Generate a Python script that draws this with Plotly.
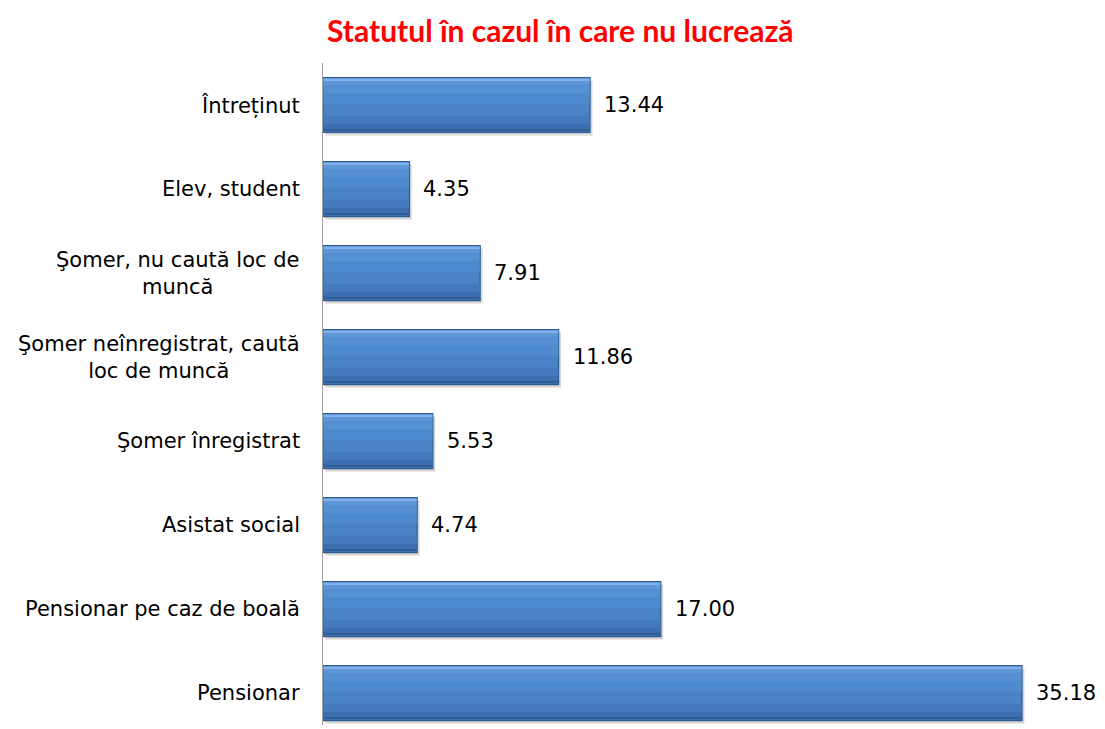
import plotly.graph_objects as go

categories = [
    "Pensionar",
    "Pensionar pe caz de boală",
    "Asistat social",
    "Şomer înregistrat",
    "Şomer neînregistrat, caută<br>loc de muncă",
    "Şomer, nu caută loc de<br>muncă",
    "Elev, student",
    "Întreținut",
]
values = [35.18, 17.00, 4.74, 5.53, 11.86, 7.91, 4.35, 13.44]
title_text = "Statutul în cazul în care nu lucrează"

# page has an 8px body margin; figure coordinates = page coordinates - 8
W, H = 1097, 721
ml, mr, mt, mb = 315, 5, 55, 4
pw = W - ml - mr
ph = H - mt - mb
xmax = pw / 19.87
ypos = list(range(len(categories)))
BW = 0.655
PX = 1 / 84.0  # one pixel in category units
LABEL_FONT = dict(family="DejaVu Sans, Liberation Sans, Arial", size=21, color="#000000")

fig = go.Figure()
# shadow
fig.add_trace(go.Bar(
    x=values, y=ypos, orientation="h", base=0.12, width=BW, offset=-BW / 2 - 3 * PX,
    marker=dict(color="rgba(0,0,0,0.16)", line=dict(width=0)), hoverinfo="skip",
))
# main bar
fig.add_trace(go.Bar(
    x=values, y=ypos, orientation="h", width=BW,
    marker=dict(color="#4A84C7", line=dict(color="#2D5C93", width=1.2)),
    hoverinfo="skip",
))
# gradient strips: (pixels from top, thickness px, colour)
strips = [
    (1, 3, "#80B0EA"),
    (4, 4, "#5E96D8"),
    (8, 8, "#5590D2"),
    (16, 10, "#4E8ACD"),
    (38, 8, "#4479BD"),
    (46, 5, "#3D6FB0"),
    (51, 3, "#335F99"),
]
for top, th, col in strips:
    fig.add_trace(go.Bar(
        x=[v - 0.04 for v in values], base=0.02, y=ypos, orientation="h",
        width=th * PX, offset=BW / 2 - (top + th) * PX,
        marker=dict(color=col, line=dict(width=0)), hoverinfo="skip",
    ))

annotations = []
for i, c in enumerate(categories):
    annotations.append(dict(
        x=(294 - ml) / pw, xref="paper", y=ypos[i], yref="y", text=c, showarrow=False,
        xanchor="right", yanchor="middle", align="center", font=LABEL_FONT,
    ))

for i, v in enumerate(values):
    annotations.append(dict(
        x=v, xref="x", y=ypos[i], yref="y", text=f"{v:.2f}", showarrow=False,
        xanchor="left", yanchor="middle", xshift=12, font=LABEL_FONT,
    ))

annotations.append(dict(
    x=(552 - ml) / pw, xref="paper", y=1 + (mt - 22) / ph, yref="paper",
    text="<b>" + title_text + "</b>", showarrow=False, xanchor="center", yanchor="middle",
    font=dict(family="Lato, Open Sans", size=30, color="#FF0000"),
))

fig.update_layout(
    width=W, height=H,
    margin=dict(l=ml, r=mr, t=mt, b=mb, autoexpand=False),
    plot_bgcolor="white", paper_bgcolor="white",
    showlegend=False, barmode="overlay",
    annotations=annotations,
    xaxis=dict(range=[0, xmax], visible=False, showgrid=False, zeroline=False),
    yaxis=dict(range=[-0.38, 7.5], showticklabels=False, showgrid=False, zeroline=False,
               showline=True, linecolor="#A0A0A0", linewidth=1, ticks=""),
)
fig.write_html("out.html")
